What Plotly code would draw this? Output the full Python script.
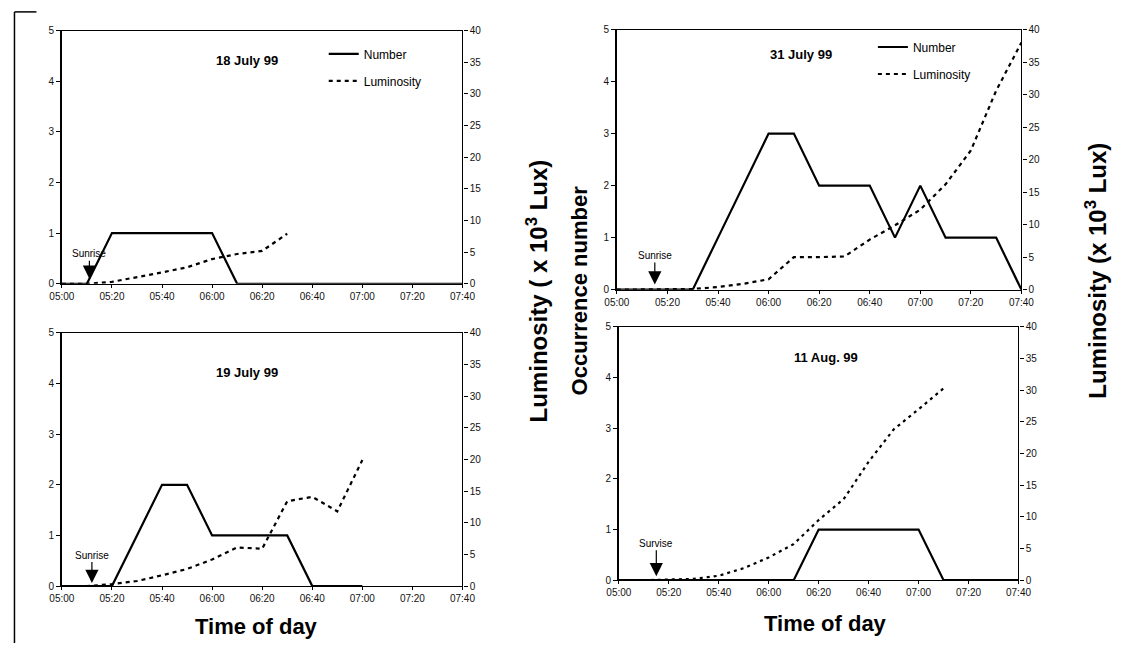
import plotly.graph_objects as go

W, H = 1138, 649

# ---------------- data ----------------
tick_labels = ["05:00", "05:20", "05:40", "06:00", "06:20", "06:40", "07:00", "07:20", "07:40"]

full_times = ["05:00", "05:10", "05:20", "05:30", "05:40", "05:50", "06:00", "06:10", "06:20",
              "06:30", "06:40", "06:50", "07:00", "07:10", "07:20", "07:30", "07:40"]

# 18 July 99
jul18_num_times = full_times
jul18_number = [0, 0, 1, 1, 1, 1, 1, 0, 0, 0, 0, 0, 0, 0, 0, 0, 0]
jul18_lum_times = full_times[:10]
jul18_lum = [0, 0, 0.3, 1.0, 1.8, 2.6, 3.9, 4.7, 5.2, 7.9]

# 19 July 99
jul19_num_times = full_times[:13]
jul19_number = [0, 0, 0, 1, 2, 2, 1, 1, 1, 1, 0, 0, 0]
jul19_lum_times = full_times[:13]
jul19_lum = [0, 0, 0.3, 0.8, 1.7, 2.7, 4.2, 6.1, 5.9, 13.4, 14.1, 11.8, 19.9]

# 31 July 99
jul31_num_times = full_times
jul31_number = [0, 0, 0, 0, 1, 2, 3, 3, 2, 2, 2, 1, 2, 1, 1, 1, 0]
jul31_lum_times = full_times
jul31_lum = [0, 0, 0, 0.1, 0.4, 0.9, 1.6, 5.0, 5.0, 5.1, 7.7, 9.9, 12.3, 16.2, 21.4, 30.6, 38.0]

# 11 Aug. 99
aug11_num_times = full_times
aug11_number = [0, 0, 0, 0, 0, 0, 0, 0, 1, 1, 1, 1, 1, 0, 0, 0, 0]
aug11_lum_times = full_times[1:14]
aug11_lum = [0, 0.1, 0.2, 0.7, 1.9, 3.6, 5.7, 9.5, 12.8, 18.7, 23.8, 27.0, 30.3]

panel_titles = ["18 July 99", "19 July 99", "31 July 99", "11 Aug. 99"]
sunrise_times = ["05:11", "05:12", "05:15", "05:15"]
sunrise_texts = ["Sunrise", "Sunrise", "Sunrise", "Survise"]


def minutes(t):
    h, m = t.split(":")
    return (int(h) - 5) * 60 + int(m)


# ---------------- layout geometry (pixels) ----------------
panels = [
    dict(x0=50, x1=460, y0=25, y1=283),
    dict(x0=50, x1=460, y0=333, y1=591),
    dict(x0=618, x1=1032, y0=24, y1=289),
    dict(x0=620, x1=1029, y0=327, y1=585),
]

series = [
    (jul18_num_times, jul18_number, jul18_lum_times, jul18_lum),
    (jul19_num_times, jul19_number, jul19_lum_times, jul19_lum),
    (jul31_num_times, jul31_number, jul31_lum_times, jul31_lum),
    (aug11_num_times, aug11_number, aug11_lum_times, aug11_lum),
]

FONT = "Liberation Sans, Arial, sans-serif"
fig = go.Figure()
layout = dict(
    width=W, height=H, autosize=False,
    margin=dict(l=0, r=0, t=0, b=0),
    paper_bgcolor="white", plot_bgcolor="white",
    font=dict(family=FONT, color="black", size=10),
    showlegend=True,
)

tickvals = [minutes(t) for t in tick_labels]
annotations = []

for i, (p, s) in enumerate(zip(panels, series)):
    n = i + 1
    xa = "x" if n == 1 else f"x{n}"
    ya = "y" if n == 1 else f"y{n}"
    yr = f"y{n + 4}"
    xd = [p["x0"] / W, p["x1"] / W]
    yd = [1 - p["y1"] / H, 1 - p["y0"] / H]
    layout[f"xaxis{n}"] = dict(
        domain=xd, range=[0, 160], anchor=ya,
        tickvals=tickvals, ticktext=tick_labels,
        showline=True, linecolor="black", linewidth=1.3, mirror=True,
        ticks="outside", ticklen=3, tickcolor="black",
        showgrid=False, zeroline=False, tickfont=dict(size=10, color="#111"),
    )
    layout[f"yaxis{n}"] = dict(
        domain=yd, range=[0, 5], anchor=xa, dtick=1,
        showline=True, linecolor="black", linewidth=1.6,
        ticks="outside", ticklen=4, tickcolor="black",
        showgrid=False, zeroline=False, tickfont=dict(size=10, color="#111"),
    )
    layout[f"yaxis{n + 4}"] = dict(
        overlaying=ya, side="right", range=[0, 40], anchor=xa, dtick=5,
        showline=True, linecolor="black", linewidth=1.3,
        ticks="outside", ticklen=4, tickcolor="black",
        showgrid=False, zeroline=False, tickfont=dict(size=10, color="#111"),
    )
    nt, nv, lt, lv = s
    leg = "legend" if n == 1 else ("legend2" if n == 3 else None)
    show = leg is not None
    kw_n = dict(legend=leg) if leg else {}
    fig.add_trace(go.Scatter(
        x=[minutes(t) for t in nt], y=nv, mode="lines", name="Number",
        line=dict(color="black", width=2.2), xaxis=xa, yaxis=ya,
        showlegend=show, legendgroup=f"n{n}", **kw_n))
    fig.add_trace(go.Scatter(
        x=[minutes(t) for t in lt], y=lv, mode="lines", name="Luminosity",
        line=dict(color="black", width=2.2, dash="4px,4px" if n != 4 else "3px,4px"),
        xaxis=xa, yaxis=yr, showlegend=show, legendgroup=f"l{n}", **kw_n))

    # panel title
    title_pos = [(74, 4.4), (74, 4.22), (73, 4.52), (83, 4.39)][i]
    annotations.append(dict(
        x=title_pos[0], y=title_pos[1], xref=xa, yref=ya, text=f"<b>{panel_titles[i]}</b>",
        showarrow=False, xanchor="center", yanchor="middle", font=dict(size=13, family=FONT)))
    # sunrise arrow
    tip = [0.1, 0.06, 0.1, 0.08][i]
    ay = [-25, -28, -29, -33][i]
    annotations.append(dict(
        x=minutes(sunrise_times[i]), y=tip, xref=xa, yref=ya,
        text=sunrise_texts[i], showarrow=True, arrowhead=2, arrowsize=2.2,
        arrowwidth=1.2, arrowcolor="black", ax=0, ay=ay,
        font=dict(size=10, family=FONT)))

# axis titles
annotations += [
    dict(x=536 / W, y=1 - 290 / H, xref="paper", yref="paper", showarrow=False,
         xanchor="center", yanchor="middle",
         text="<b>Luminosity ( x 10<sup>3</sup> Lux)</b>", textangle=-90,
         font=dict(size=24, family=FONT)),
    dict(x=580 / W, y=1 - 290 / H, xref="paper", yref="paper", showarrow=False,
         xanchor="center", yanchor="middle",
         text="<b>Occurrence number</b>", textangle=-90, font=dict(size=22, family=FONT)),
    dict(x=1108 / W, y=1 - 270 / H, xref="paper", yref="paper", showarrow=False,
         xanchor="center", yanchor="middle",
         text="<b>Luminosity (x 10<sup>3</sup> Lux)</b>", textangle=-90,
         font=dict(size=24, family=FONT)),
    dict(x=249 / W, y=1 - 632 / H, xref="paper", yref="paper", showarrow=False,
         xanchor="center", yanchor="middle",
         text="<b>Time of day</b>", font=dict(size=22, family=FONT)),
    dict(x=832 / W, y=1 - 629 / H, xref="paper", yref="paper", showarrow=False,
         xanchor="center", yanchor="middle",
         text="<b>Time of day</b>", font=dict(size=22, family=FONT)),
]
layout["annotations"] = annotations

legend_common = dict(
    xanchor="left", yanchor="top", bgcolor="rgba(0,0,0,0)", borderwidth=0,
    font=dict(size=12, family=FONT, color="black"), traceorder="grouped",
    tracegroupgap=8, itemwidth=30, itemclick=False, itemdoubleclick=False,
)
layout["legend"] = dict(x=318 / W, y=1 - 34 / H, **legend_common)
layout["legend2"] = dict(x=880 / W, y=1 - 27 / H, **legend_common)

# left frame line of the scanned page
layout["shapes"] = [
    dict(type="line", xref="paper", yref="paper", x0=1.5 / W, x1=1.5 / W, y0=0, y1=1 - 6 / H,
         line=dict(color="black", width=1.5)),
    dict(type="line", xref="paper", yref="paper", x0=1.5 / W, x1=24 / W, y0=1 - 6 / H, y1=1 - 6 / H,
         line=dict(color="black", width=1.5)),
]

fig.update_layout(**layout)
fig.write_html("out.html", config={"displayModeBar": False},
               post_script="document.body.style.margin='0';document.body.style.overflow='hidden';")
